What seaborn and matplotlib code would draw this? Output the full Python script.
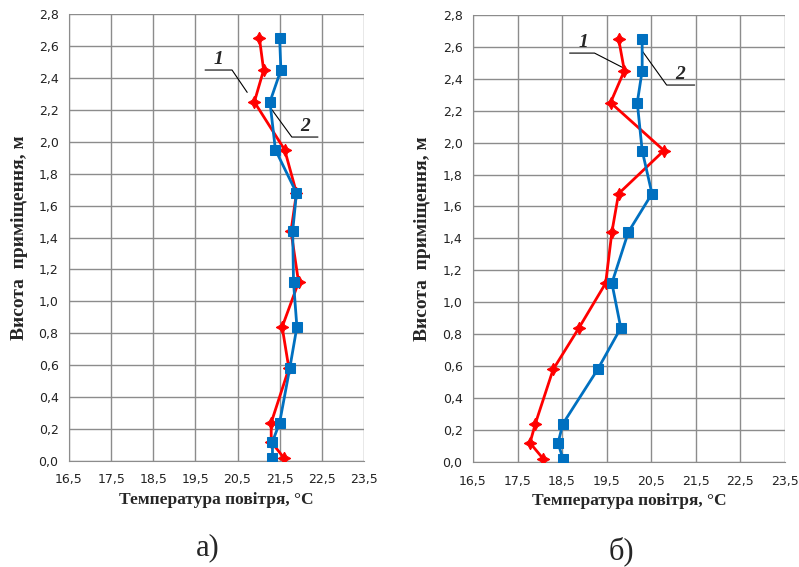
import pandas as pd
import seaborn as sns
import matplotlib.pyplot as plt
from matplotlib.ticker import FuncFormatter

# Висоти точок вимірювання, м
heights = [0.02, 0.12, 0.24, 0.58, 0.84, 1.12, 1.44, 1.68, 1.95, 2.25, 2.45, 2.65]

# а) температура, °С
a_curve1 = [21.60, 21.30, 21.30, 21.72, 21.56, 21.95, 21.77, 21.90, 21.62, 20.90, 21.12, 21.02]
a_curve2 = [21.33, 21.33, 21.50, 21.74, 21.91, 21.83, 21.81, 21.90, 21.40, 21.27, 21.53, 21.50]

# б) температура, °С
b_curve1 = [18.08, 17.78, 17.90, 18.30, 18.88, 19.48, 19.62, 19.77, 20.79, 19.59, 19.90, 19.77]
b_curve2 = [18.52, 18.41, 18.52, 19.30, 19.82, 19.62, 19.99, 20.52, 20.30, 20.19, 20.30, 20.30]

x_ticks = [16.5, 17.5, 18.5, 19.5, 20.5, 21.5, 22.5, 23.5]
y_ticks = [0.0, 0.2, 0.4, 0.6, 0.8, 1.0, 1.2, 1.4, 1.6, 1.8, 2.0, 2.2, 2.4, 2.6, 2.8]

captions = ["а)", "б)"]

sns.set_style("white")
plt.rcParams["font.family"] = ["DejaVu Sans"]

red = "#ff0000"
blue = "#0070c0"
grid_c = "#8c8c8c"

fig = plt.figure(figsize=(7.99, 5.67), dpi=100)
ax_a = fig.add_axes([0.0864, 0.187, 0.369, 0.788])
ax_b = fig.add_axes([0.592, 0.185, 0.390, 0.789])

comma = FuncFormatter(lambda v, p: f"{v:.1f}".replace(".", ","))

panels = [(ax_a, a_curve1, a_curve2), (ax_b, b_curve1, b_curve2)]
for ax, c1, c2 in panels:
    df = pd.DataFrame({"t1": c1, "t2": c2, "h": heights})
    sns.lineplot(x="t1", y="h", data=df, sort=False, estimator=None, ax=ax,
                 color=red, lw=2, marker=(4, 1, 0), markersize=9,
                 markeredgecolor=red, zorder=3)
    sns.lineplot(x="t2", y="h", data=df, sort=False, estimator=None, ax=ax,
                 color=blue, lw=2, marker="s", markersize=7,
                 markeredgecolor=blue, zorder=4)
    ax.set_xlim(x_ticks[0], x_ticks[-1])
    ax.set_ylim(y_ticks[0], y_ticks[-1])
    ax.set_xticks(x_ticks)
    ax.set_yticks(y_ticks)
    ax.xaxis.set_major_formatter(comma)
    ax.yaxis.set_major_formatter(comma)
    ax.grid(True, color=grid_c, lw=1)
    for s in ["top", "right"]:
        ax.spines[s].set_visible(False)
    for s in ["left", "bottom"]:
        ax.spines[s].set_color(grid_c)
    ax.tick_params(axis="both", length=4, color=grid_c, labelsize=9,
                   labelcolor="#222222", direction="out")
    ax.tick_params(axis="x", pad=5)
    ax.set_xlabel("Температура повітря, °С", family="Liberation Serif",
                  fontweight="bold", fontsize=12.5, labelpad=4)
    ax.set_ylabel("Висота  приміщення, м", family="Liberation Serif",
                  fontweight="bold", fontsize=14, labelpad=8)

# Виноски з номерами кривих
lbl = dict(family="Liberation Serif", fontsize=14, fontweight="bold",
           style="italic", ha="center", va="bottom")
ax_a.plot([19.73, 20.37, 20.73], [2.45, 2.45, 2.31], color="black", lw=0.8)
ax_a.text(20.05, 2.46, "1", **lbl)
ax_a.plot([21.32, 21.79, 22.41], [2.20, 2.03, 2.03], color="black", lw=0.8)
ax_a.text(22.1, 2.04, "2", **lbl)

ax_b.plot([18.67, 19.23, 19.86], [2.56, 2.56, 2.47], color="black", lw=0.8)
ax_b.text(18.98, 2.57, "1", **lbl)
ax_b.plot([20.31, 20.85, 21.48], [2.57, 2.36, 2.36], color="black", lw=0.8)
ax_b.text(21.15, 2.37, "2", **lbl)

fig.text(0.26, 0.034, captions[0], family="Liberation Serif", fontsize=22,
         ha="center", va="center")
fig.text(0.778, 0.027, captions[1], family="Liberation Serif", fontsize=22,
         ha="center", va="center")

fig.savefig("out.png", dpi=100)
